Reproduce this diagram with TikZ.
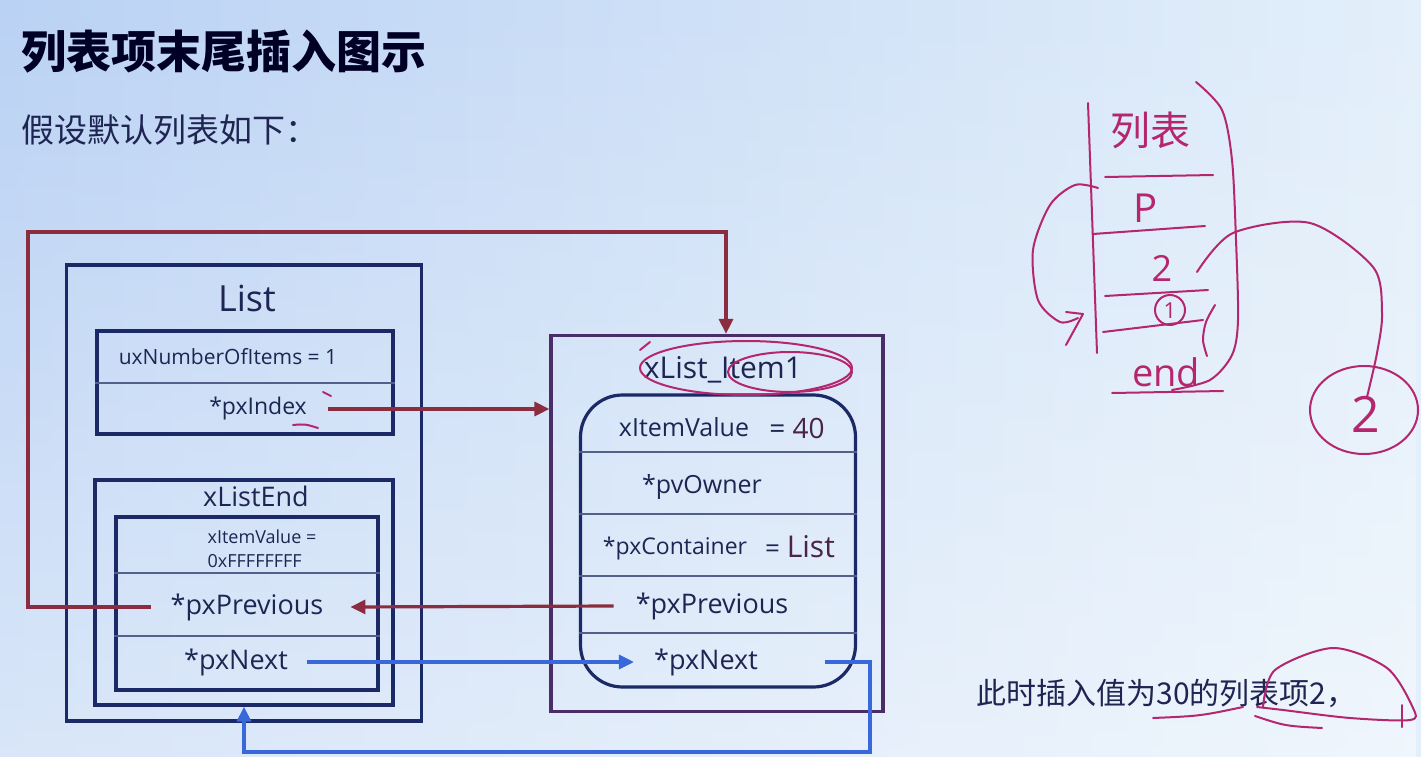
\documentclass[tikz,border=0pt]{standalone}
\usepackage{fontspec}
\setmainfont{Open Sans}
\newfontfamily\cjk{Noto Sans CJK SC}
\usetikzlibrary{arrows.meta,fadings}

\definecolor{boxline}{HTML}{1B2A66}
\definecolor{txt}{HTML}{1E2552}
\definecolor{prevred}{HTML}{8B2D3E}
\definecolor{nextblue}{HTML}{3868DC}
\definecolor{itemline}{HTML}{4A2C66}
\definecolor{itemnum}{HTML}{4A2345}
\definecolor{inkpink}{HTML}{B4266E}
\definecolor{slideleft}{HTML}{BAD2F4}
\definecolor{slideright}{HTML}{E3EFFA}

\tikzset{
  box/.style={draw=boxline, line width=3.2pt, rectangle, inner sep=0pt},
  field/.style={text=txt, inner sep=0pt, anchor=center},
  sep/.style={draw=boxline!75, line width=1.2pt},
  prevarr/.style={draw=prevred, line width=3.2pt, -{Triangle[length=15pt,width=14pt]}},
  nextarr/.style={draw=nextblue, line width=3.2pt, -{Triangle[length=15pt,width=14pt]}},
  ink/.style={draw=inkpink, line width=2pt, line cap=round, line join=round},
  inktext/.style={text=inkpink, inner sep=0pt}
}

\begin{document}
\begin{tikzpicture}[x=1pt, y=-1pt]
  % slide background
  \shade[left color=slideleft, right color=slideright] (0,0) rectangle (1421,757);
  \fill[white, opacity=0.45, path fading=north] (0,0) rectangle (1421,757);
  \useasboundingbox (0,0) rectangle (1421,757);

  % headings
  \node[anchor=west, font=\cjk\bfseries\fontsize{45}{50}\selectfont, text=black!85!blue] (title) at (18,52) {列表项末尾插入图示};
  \node[anchor=west, font=\cjk\fontsize{33}{38}\selectfont, text=txt] (subtitle) at (18,130) {假设默认列表如下：};
  \node[anchor=west, font=\cjk\fontsize{30}{34}\selectfont, text=txt] (note) at (973,693) {此时插入值为30的列表项2，};

  % List
  \node[box, minimum width=355pt, minimum height=456pt] (list) at (244,493) {};
  \node[field, font=\fontsize{36}{40}\selectfont] (listname) at (247,298) {List};
  \node[box, minimum width=296pt, minimum height=103pt] (counter) at (245,382.5) {};
  \draw[sep] (counter.west |- 0,383) -- (counter.east |- 0,383);
  \node[field, font=\fontsize{21}{24}\selectfont] (numitems) at (228,357) {uxNumberOfItems = 1};
  \node[field, font=\fontsize{23}{26}\selectfont] (pxindex) at (258,409) {*pxIndex};

  % xListEnd
  \node[box, minimum width=298pt, minimum height=225pt] (listend) at (244,592.5) {};
  \node[field, font=\fontsize{27}{30}\selectfont] (endname) at (256,496) {xListEnd};
  \node[box, minimum width=262pt, minimum height=173pt] (endbody) at (247,603.5) {};
  \draw[sep] (endbody.west |- 0,573) -- (endbody.east |- 0,573);
  \draw[sep] (endbody.west |- 0,636) -- (endbody.east |- 0,636);
  \node[field, font=\fontsize{18}{24}\selectfont, align=left] (endvalue) at (262,549) {xItemValue =\\0xFFFFFFFF};
  \node[field, font=\fontsize{27}{30}\selectfont] (endprev) at (247,607) {*pxPrevious};
  \node[field, font=\fontsize{27}{30}\selectfont] (endnext) at (236,662) {*pxNext};

  % xList_Item1
  \node[box, draw=itemline, minimum width=332pt, minimum height=376pt] (item1) at (717,523.5) {};
  \node[field, font=\fontsize{30}{34}\selectfont] (itemname) at (723,370) {xList\_Item1};
  \node[box, rounded corners=42pt, minimum width=275pt, minimum height=292pt] (itembody) at (718,541) {};
  \foreach \yy in {452,514,576,633}
    \draw[sep] (itembody.west |- 0,\yy) -- (itembody.east |- 0,\yy);
  \node[field, font=\fontsize{25}{28}\selectfont] (itemvalue) at (684,427) {xItemValue};
  \node[field, font=\fontsize{28}{30}\selectfont] (itemeq) at (797,428) {= \textcolor{itemnum}{40}};
  \node[field, font=\fontsize{25}{28}\selectfont] (itemowner) at (702,487) {*pvOwner};
  \node[field, font=\fontsize{23}{26}\selectfont] (itemcont) at (675,549) {*pxContainer};
  \node[field, font=\fontsize{26}{30}\selectfont] (itemcontval) at (800,547) {= \textcolor{itemnum}{\fontsize{30}{34}\selectfont List}};
  \node[field, font=\fontsize{27}{30}\selectfont] (itemprev) at (712,606) {*pxPrevious};
  \node[field, font=\fontsize{27}{30}\selectfont] (itemnext) at (706,662) {*pxNext};

  % pointers
  \coordinate (prevturn) at (28,232);
  \coordinate (nextturn) at (870,752);
  \draw[prevarr] ([xshift=21pt]pxindex.east) -- (pxindex.east -| item1.west);
  \draw[prevarr] ([xshift=-20pt]endprev.west) -| (prevturn) -| ([xshift=9pt]item1.north);
  \draw[prevarr] ([xshift=-22pt]itemprev.west) -- ([xshift=27pt]endprev.east);
  \draw[nextarr] ([xshift=19pt]endnext.east) -- ([xshift=-20pt]itemnext.west);
  \draw[nextarr] ([xshift=67pt]itemnext.east) -| (nextturn) -| (listend.south);

  % pen marks on the slide
  \draw[ink] (746,368) ellipse [x radius=106pt, y radius=27pt];
  \draw[ink] (790,372) ellipse [x radius=62pt, y radius=20pt];
  \draw[ink] (640,350) -- (650,342);
  \draw[ink] (293,425) .. controls (305,424) .. (318,428);
  \draw[ink] (323,392) -- (331,396);
  \draw[ink] (1153,718) .. controls (1200,716) .. (1243,707);
  \draw[ink] (1255,716) .. controls (1285,726) .. (1322,728);
  \draw[ink] plot[smooth] coordinates {(1263,707) (1275,670) (1333,648) (1387,668) (1413,708) (1410,720) (1350,718) (1283,710) (1257,707)};
  \draw[ink] (1402,705) -- (1402,727);

  % sketch on the right
  \draw[ink] (1088,103) -- (1097,353);
  \draw[ink] (1105,177) -- (1213,175);
  \draw[ink] (1093,234) -- (1205,226);
  \draw[ink] (1105,296) -- (1208,290);
  \draw[ink] (1103,332) -- (1203,320);
  \draw[ink] (1112,393) -- (1223,391);
  \draw[ink] plot[smooth] coordinates {(1196,82) (1222,110) (1232,160) (1236,240) (1238,320) (1232,355) (1210,380) (1172,390)};
  \draw[ink] plot[smooth] coordinates {(1215,305) (1206,322) (1203,340) (1207,356)};
  \draw[ink] plot[smooth] coordinates {(1098,188) (1075,185) (1050,205) (1033,250) (1038,300) (1060,322) (1078,318)};
  \draw[ink] (1066,312) -- (1083,314) -- (1066,345);
  \draw[ink] plot[smooth] coordinates {(1197,272) (1233,233) (1310,223) (1373,267) (1382,313) (1377,353) (1367,397)};
  \draw[ink] (1364,410) ellipse [x radius=54pt, y radius=44pt];
  \draw[ink] (1170,310) circle [radius=15pt];
  \node[inktext, font=\cjk\fontsize{40}{44}\selectfont] (sketchtitle) at (1150,130) {列表};
  \node[inktext, font=\fontsize{40}{46}\selectfont] (sketchp) at (1146,208) {P};
  \node[inktext, font=\fontsize{36}{40}\selectfont] (sketchtwo) at (1162,268) {2};
  \node[inktext, font=\fontsize{22}{26}\selectfont] (sketchone) at (1170,311) {1};
  \node[inktext, font=\fontsize{38}{44}\selectfont] (sketchend) at (1166,372) {end};
  \node[inktext, font=\fontsize{50}{54}\selectfont] (sketchcircle) at (1366,414) {2};
\end{tikzpicture}
\end{document}
